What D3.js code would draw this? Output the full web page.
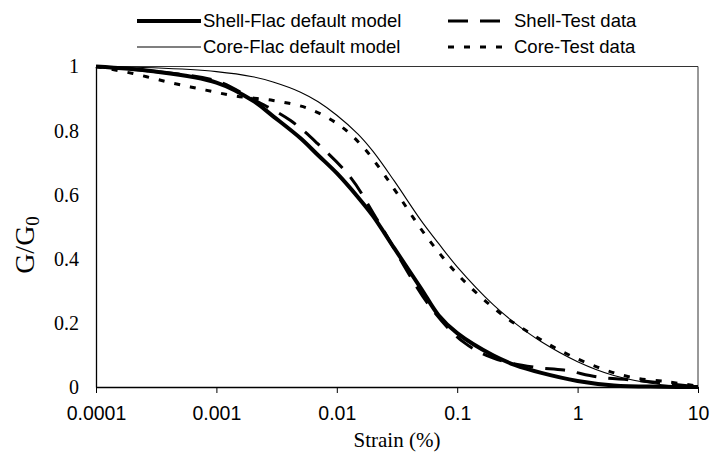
<!DOCTYPE html>
<html>
<head>
<meta charset="utf-8">
<script src="https://cdn.jsdelivr.net/npm/d3@7"></script>
<style>
  body { margin: 0; background: #fff; }
  svg { display: block; }
</style>
</head>
<body>
<svg id="chart" width="712" height="452"></svg>
<script>
// values (strain in %, G/G0)
var shellFlacStrain = [0.0001, 0.0003, 0.001, 0.002, 0.003, 0.005, 0.007, 0.01, 0.015, 0.02, 0.03, 0.05, 0.07, 0.1, 0.2, 0.3, 0.5, 1, 2, 5, 10]
var shellFlacG = [1.0, 0.985, 0.95, 0.894, 0.843, 0.776, 0.723, 0.667, 0.592, 0.533, 0.433, 0.308, 0.224, 0.168, 0.098, 0.069, 0.044, 0.019, 0.005, 0.001, 0]

var coreFlacStrain = [0.0001, 0.0003, 0.001, 0.002, 0.003, 0.005, 0.007, 0.01, 0.015, 0.02, 0.03, 0.05, 0.07, 0.1, 0.2, 0.3, 0.5, 1, 2, 5, 10]
var coreFlacG = [1.0, 0.996, 0.984, 0.968, 0.951, 0.92, 0.89, 0.848, 0.789, 0.735, 0.643, 0.52, 0.448, 0.375, 0.256, 0.2, 0.141, 0.079, 0.036, 0.007, 0]

var shellTestStrain = [0.0001, 0.0003, 0.001, 0.0019, 0.0041, 0.0069, 0.013, 0.0218, 0.06, 0.113, 0.2, 0.43, 0.77, 1.47, 2.77, 5.2, 10]
var shellTestG = [1.0, 0.985, 0.955, 0.903, 0.832, 0.76, 0.654, 0.52, 0.249, 0.14, 0.09, 0.062, 0.053, 0.031, 0.022, 0.012, 0]

var coreTestStrain = [0.0001, 0.000203, 0.000412, 0.000775, 0.00148, 0.00296, 0.00578, 0.0106, 0.0166, 0.0243, 0.0317, 0.0562, 0.106, 0.228, 0.404, 0.759, 1.46, 2.74, 5.66, 10]
var coreTestG = [1.0, 0.978, 0.95, 0.928, 0.907, 0.894, 0.869, 0.816, 0.748, 0.667, 0.604, 0.467, 0.343, 0.23, 0.168, 0.109, 0.062, 0.031, 0.016, 0.003]

var xTicks = [0.0001, 0.001, 0.01, 0.1, 1, 10]
var xTickLabels = ["0.0001", "0.001", "0.01", "0.1", "1", "10"]
var yTicks = [0, 0.2, 0.4, 0.6, 0.8, 1]
var yTickLabels = ["0", "0.2", "0.4", "0.6", "0.8", "1"]

var svg = d3.select("#chart")
var pLeft = 96, pRight = 698, pTop = 66.5, pBottom = 387

var x = d3.scaleLog().domain([0.0001, 10]).range([pLeft, pRight])
var y = d3.scaleLinear().domain([0, 1]).range([pBottom, pTop])

function pairs(xs, ys){ return xs.map(function(v, i){ return [v, ys[i]] }) }

var series = [
  {name: "Core-Flac default model", data: pairs(coreFlacStrain, coreFlacG), width: 1.1, dash: null},
  {name: "Core-Test data", data: pairs(coreTestStrain, coreTestG), width: 3, dash: "6,10"},
  {name: "Shell-Test data", data: pairs(shellTestStrain, shellTestG), width: 3, dash: "20,12"},
  {name: "Shell-Flac default model", data: pairs(shellFlacStrain, shellFlacG), width: 4, dash: null}
]

// plot frame: top and right edges
svg.append("line").attr("x1", pLeft).attr("x2", pRight).attr("y1", pTop).attr("y2", pTop)
  .attr("stroke", "#333").attr("stroke-width", 1)
svg.append("line").attr("x1", pRight).attr("x2", pRight).attr("y1", pTop).attr("y2", pBottom)
  .attr("stroke", "#333").attr("stroke-width", 1)

var line = d3.line()
  .x(function(d){ return x(d[0]) })
  .y(function(d){ return y(d[1]) })
  .curve(d3.curveCatmullRom.alpha(0.5))

svg.append("g").selectAll("path").data(series).enter()
  .append("path")
  .attr("d", function(d){ return line(d.data) })
  .attr("fill", "none")
  .attr("stroke", "#000")
  .attr("stroke-width", function(d){ return d.width })
  .attr("stroke-dasharray", function(d){ return d.dash })
  .attr("stroke-linecap", "butt")

// x axis
var xAxis = svg.append("g")
  .attr("transform", "translate(0," + pBottom + ")")
  .call(d3.axisBottom(x).tickValues(xTicks).tickSize(6).tickSizeOuter(0)
    .tickFormat(function(d, i){ return xTickLabels[i] }))
xAxis.select(".domain").attr("stroke", "#000").attr("stroke-width", 1.3)
xAxis.selectAll(".tick line").attr("stroke", "#000")
xAxis.selectAll("text")
  .attr("y", 19)
  .style("font-family", "'Liberation Sans', Arial, sans-serif")
  .style("font-size", "19.5px")
  .attr("fill", "#000")

// y axis (no tick marks)
var yAxis = svg.append("g")
  .attr("transform", "translate(" + pLeft + ",0)")
  .call(d3.axisLeft(y).tickValues(yTicks).tickSize(0).tickSizeOuter(0).tickPadding(17)
    .tickFormat(function(d, i){ return yTickLabels[i] }))
yAxis.select(".domain").attr("stroke", "#000").attr("stroke-width", 1.3)
yAxis.selectAll("text")
  .style("font-family", "'Liberation Serif', 'Times New Roman', serif")
  .style("font-size", "20px")
  .attr("fill", "#000")

// axis titles
svg.append("text")
  .attr("x", (pLeft + pRight) / 2)
  .attr("y", 447)
  .attr("text-anchor", "middle")
  .style("font-family", "'Liberation Serif', 'Times New Roman', serif")
  .style("font-size", "21px")
  .text("Strain (%)")

var yt = svg.append("text")
  .attr("transform", "translate(34,245) rotate(-90)")
  .attr("text-anchor", "middle")
  .style("font-family", "'Liberation Serif', 'Times New Roman', serif")
  .style("font-size", "28px")
yt.append("tspan").text("G/G")
yt.append("tspan").attr("dy", 5).style("font-size", "19px").text("0")

// legend
var legendItems = [
  {s: series[3], x: 137, y: 21},
  {s: series[0], x: 137, y: 47},
  {s: series[2], x: 448, y: 21},
  {s: series[1], x: 448, y: 47}
]
var lg = svg.append("g").selectAll("g").data(legendItems).enter().append("g")
lg.append("line")
  .attr("x1", function(d){ return d.x }).attr("x2", function(d){ return d.x + 64 })
  .attr("y1", function(d){ return d.y }).attr("y2", function(d){ return d.y })
  .attr("stroke", "#000")
  .attr("stroke-width", function(d){ return d.s.width })
  .attr("stroke-dasharray", function(d){ return d.s.dash })
lg.append("text")
  .attr("x", function(d){ return d.x + 66 })
  .attr("y", function(d){ return d.y })
  .attr("dy", "0.35em")
  .style("font-family", "'Liberation Sans', Arial, sans-serif")
  .style("font-size", "18.5px")
  .text(function(d){ return d.s.name })
</script>
</body>
</html>
